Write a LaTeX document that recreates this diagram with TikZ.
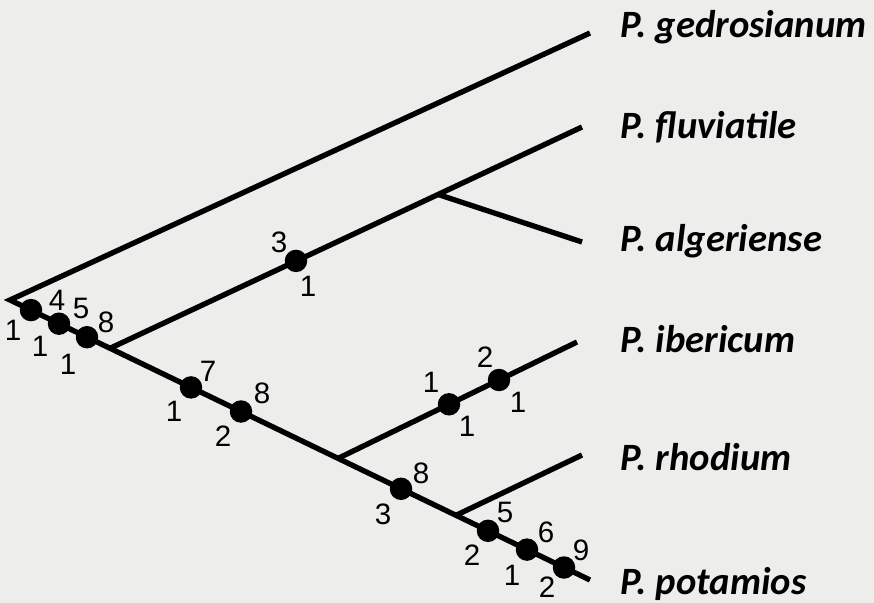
\documentclass[tikz,border=0pt]{standalone}
\usepackage{fontspec}
\setmainfont{Liberation Sans}
\newfontfamily\taxonfont{Carlito}
\definecolor{bgcol}{RGB}{237,237,235}

\begin{document}
\begin{tikzpicture}[x=0.025cm,y=-0.025cm,
    branch/.style={line width=3.8pt,line join=miter},
    apo/.style={circle,fill=black,inner sep=0pt,minimum size=16pt},
    num/.style={font=\fontsize{21}{22}\selectfont,inner sep=0pt},
    taxon/.style={font=\taxonfont\bfseries\itshape\fontsize{27.5}{28}\selectfont,anchor=base west,inner sep=0pt}]
    % Background and frame
    \fill[bgcol] (0,0) rectangle (874,603);
    \useasboundingbox (0,0) rectangle (874,603);

    % Tree points
    \coordinate (root) at (10,300);
    \coordinate (gedr) at (590,33);
    \coordinate (fluv) at (582,127);
    \coordinate (alg) at (582,242);
    \coordinate (iber) at (577,342);
    \coordinate (rhod) at (582,455);
    \coordinate (pota) at (590,580);
    \coordinate (n1) at (110,348.3);
    \coordinate (n2) at (438,194.4);
    \coordinate (n3) at (338,458.4);
    \coordinate (n4) at (456,515.3);

    % Branches
    \draw[branch] (gedr) -- (root) -- (pota);
    \draw[branch] (n1) -- (fluv);
    \draw[branch] (n2) -- (alg);
    \draw[branch] (n3) -- (iber);
    \draw[branch] (n4) -- (rhod);

    % Changes on the branches
    \node[apo] (d1) at (31,310.1) {};
    \node[apo] (d2) at (59,323.7) {};
    \node[apo] (d3) at (87,337.2) {};
    \node[apo] (d4) at (296,260.9) {};
    \node[apo] (d5) at (191,387.4) {};
    \node[apo] (d6) at (241,411.5) {};
    \node[apo] (d7) at (449,404.3) {};
    \node[apo] (d8) at (499,380.0) {};
    \node[apo] (d9) at (401,488.8) {};
    \node[apo] (d10) at (488,530.8) {};
    \node[apo] (d11) at (527,549.6) {};
    \node[apo] (d12) at (564,567.5) {};

    % Numbers
    \node[num] (u1) at (57,300) {4};
    \node[num] (l1) at (13,330) {1};
    \node[num] (u2) at (81,308) {5};
    \node[num] (l2) at (40,346) {1};
    \node[num] (u3) at (106,322) {8};
    \node[num] (l3) at (68,364) {1};
    \node[num] (u4) at (279,242) {3};
    \node[num] (l4) at (308,286) {1};
    \node[num] (u5) at (208,371) {7};
    \node[num] (l5) at (174,411) {1};
    \node[num] (u6) at (262,393) {8};
    \node[num] (l6) at (223,436) {2};
    \node[num] (u7) at (431,382) {1};
    \node[num] (l7) at (467,426) {1};
    \node[num] (u8) at (485,357) {2};
    \node[num] (l8) at (518,402) {1};
    \node[num] (u9) at (421,473) {8};
    \node[num] (l9) at (383,514) {3};
    \node[num] (u10) at (505,512) {5};
    \node[num] (l10) at (472,555) {2};
    \node[num] (u11) at (546,532) {6};
    \node[num] (l11) at (512,575) {1};
    \node[num] (u12) at (581,550) {9};
    \node[num] (l12) at (547,587) {2};

    % Taxa
    \node[taxon] (tgedr) at (620,38) {P. gedrosianum};
    \node[taxon] (tfluv) at (620,139) {P. fluviatile};
    \node[taxon] (talg) at (620,252) {P. algeriense};
    \node[taxon] (tiber) at (620,352) {P. ibericum};
    \node[taxon] (trhod) at (620,470) {P. rhodium};
    \node[taxon] (tpota) at (620,594) {P. potamios};
\end{tikzpicture}
\end{document}
